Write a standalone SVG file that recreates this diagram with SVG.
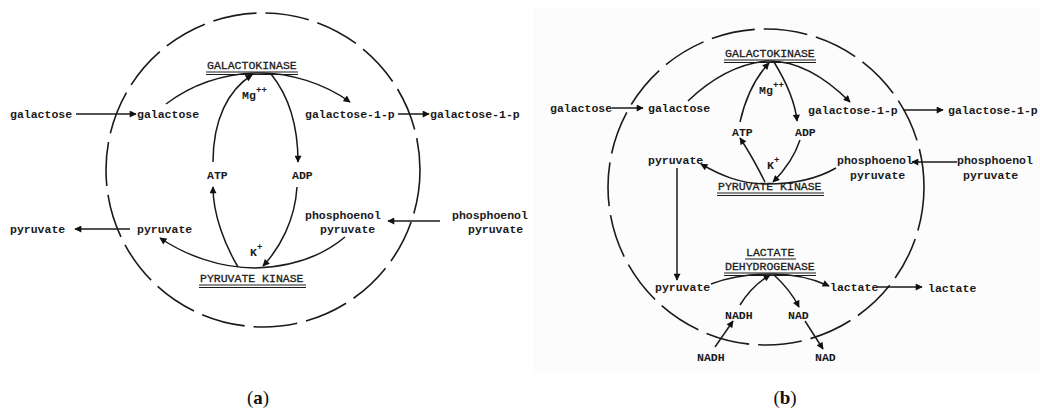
<svg xmlns="http://www.w3.org/2000/svg" width="1040" height="416" viewBox="0 0 1040 416">
<defs>
<marker id="ah" viewBox="0 0 10 10" refX="9" refY="5" markerWidth="8" markerHeight="7" markerUnits="userSpaceOnUse" orient="auto">
<path d="M0,0 L10,5 L0,10 z" fill="#111"/>
</marker>
<style>
.t{font-family:"Liberation Mono","DejaVu Sans Mono",monospace;font-size:11.5px;font-weight:bold;fill:#1a1a1a}
.e{font-family:"Liberation Mono","DejaVu Sans Mono",monospace;font-size:11.5px;fill:#1a1a1a;stroke:#1a1a1a;stroke-width:0.3}
.s{font-family:"Liberation Mono","DejaVu Sans Mono",monospace;font-size:9px;font-weight:bold;fill:#1a1a1a}
.c{fill:none;stroke:#1a1a1a;stroke-width:1.6;stroke-dasharray:44 9}
.l{fill:none;stroke:#1a1a1a;stroke-width:1.5;marker-end:url(#ah)}
.u{stroke:#1a1a1a;stroke-width:1}
.cap{font-family:"Liberation Serif",serif;font-size:19px;fill:#111}
</style>
</defs>
<rect width="1040" height="416" fill="#fff"/>
<rect x="533" y="8" width="507" height="364" fill="#fcfcfc"/>

<g id="panel-a">
<circle id="membrane-a" class="c" cx="263" cy="170" r="157"/>
<g id="a-galactose-out"><text class="t" x="10" y="118">galactose</text></g>
<g id="a-galactose-in"><text class="t" x="137" y="118">galactose</text></g>
<g id="a-galactokinase"><text class="e" x="207" y="69">GALACTOKINASE</text><line class="u" x1="206" y1="72" x2="298" y2="72"/><line class="u" x1="206" y1="74.5" x2="298" y2="74.5"/></g>
<g id="a-mg"><text class="t" x="242" y="99">Mg</text><text class="s" x="256" y="93">++</text></g>
<g id="a-gal1p-in"><text class="t" x="305" y="118">galactose-1-p</text></g>
<g id="a-gal1p-out"><text class="t" x="430" y="118">galactose-1-p</text></g>
<g id="a-atp"><text class="t" x="207" y="179">ATP</text></g>
<g id="a-adp"><text class="t" x="292" y="179">ADP</text></g>
<g id="a-pyruvate-out"><text class="t" x="10" y="233">pyruvate</text></g>
<g id="a-pyruvate-in"><text class="t" x="137" y="233">pyruvate</text></g>
<g id="a-pep-in"><text class="t" x="305" y="219">phosphoenol</text><text class="t" x="320" y="233">pyruvate</text></g>
<g id="a-pep-out"><text class="t" x="452" y="219">phosphoenol</text><text class="t" x="468" y="233">pyruvate</text></g>
<g id="a-k"><text class="t" x="250" y="256">K</text><text class="s" x="257" y="250">+</text></g>
<g id="a-pk"><text class="e" x="200" y="282">PYRUVATE KINASE</text><line class="u" x1="199" y1="285" x2="306" y2="285"/><line class="u" x1="199" y1="287.5" x2="306" y2="287.5"/></g>
<text class="cap" x="258" y="404" text-anchor="middle">(<tspan font-weight="bold">a</tspan>)</text>
</g>

<g id="panel-b">
<circle id="membrane-b" class="c" cx="766" cy="187" r="158" stroke-dasharray="40 10"/>
<g id="b-galactose-out"><text class="t" x="550" y="112">galactose</text></g>
<g id="b-galactose-in"><text class="t" x="648" y="112">galactose</text></g>
<g id="b-galactokinase"><text class="e" x="725" y="57">GALACTOKINASE</text><line class="u" x1="724" y1="60" x2="816" y2="60"/><line class="u" x1="724" y1="62.5" x2="816" y2="62.5"/></g>
<g id="b-mg"><text class="t" x="759" y="94">Mg</text><text class="s" x="773" y="88">++</text></g>
<g id="b-gal1p-in"><text class="t" x="808" y="114">galactose-1-p</text></g>
<g id="b-gal1p-out"><text class="t" x="948" y="114">galactose-1-p</text></g>
<g id="b-atp"><text class="t" x="732" y="136">ATP</text></g>
<g id="b-adp"><text class="t" x="795" y="136">ADP</text></g>
<g id="b-pyruvate-top"><text class="t" x="648" y="164">pyruvate</text></g>
<g id="b-k"><text class="t" x="767" y="169">K</text><text class="s" x="774" y="163">+</text></g>
<g id="b-pep-in"><text class="t" x="837" y="164">phosphoenol</text><text class="t" x="850" y="179">pyruvate</text></g>
<g id="b-pep-out"><text class="t" x="957" y="164">phosphoenol</text><text class="t" x="963" y="179">pyruvate</text></g>
<g id="b-pk"><text class="e" x="718" y="190">PYRUVATE KINASE</text><line class="u" x1="717" y1="193" x2="824" y2="193"/><line class="u" x1="717" y1="195.5" x2="824" y2="195.5"/></g>
<g id="b-ldh"><text class="e" x="746" y="256">LACTATE</text><line class="u" x1="745" y1="259" x2="796" y2="259"/><text class="e" x="725" y="270">DEHYDROGENASE</text><line class="u" x1="724" y1="273" x2="816" y2="273"/><line class="u" x1="724" y1="275.5" x2="816" y2="275.5"/></g>
<g id="b-pyruvate-low"><text class="t" x="655" y="291">pyruvate</text></g>
<g id="b-lactate-in"><text class="t" x="830" y="291">lactate</text></g>
<g id="b-lactate-out"><text class="t" x="928" y="292">lactate</text></g>
<g id="b-nadh-in"><text class="t" x="725" y="319">NADH</text></g>
<g id="b-nad-in"><text class="t" x="788" y="319">NAD</text></g>
<g id="b-nadh-out"><text class="t" x="697" y="361">NADH</text></g>
<g id="b-nad-out"><text class="t" x="815" y="361">NAD</text></g>
<text class="cap" x="785" y="404" text-anchor="middle">(<tspan font-weight="bold">b</tspan>)</text>
</g>

<g id="connectors">
<path class="l" d="M76,114 H136"/>
<path class="l" d="M398,114 H429"/>
<path class="l" d="M130,229 H75"/>
<path class="l" d="M440,221 H388"/>
<path class="l" d="M166,104 C195,82 225,74 256,73 C290,72 325,84 350,102"/>
<path class="l" d="M213,162 C213,120 228,90 252,75"/>
<path class="l" d="M271,74 C288,95 298,125 298,162"/>
<path class="l" d="M297,187 C295,220 280,248 263,266"/>
<path class="l" d="M238,267 C225,245 213,215 213,187"/>
<path class="l" d="M345,237 C320,258 290,267 255,268 C220,268 185,255 160,238"/>

<path class="l" d="M612,108 H643"/>
<path class="l" d="M903,110 H943"/>
<path class="l" d="M957,162 H912"/>
<path class="l" d="M877,287 H922"/>
<path class="l" d="M677,168 V280"/>
<path class="l" d="M688,101 C710,80 735,64 767,61 C800,60 828,80 850,102"/>
<path class="l" d="M740,122 C745,100 755,78 769,63"/>
<path class="l" d="M774,62 C785,80 795,100 797,121"/>
<path class="l" d="M800,140 C795,155 785,170 773,182"/>
<path class="l" d="M765,182 C758,168 748,150 740,138"/>
<path class="l" d="M836,168 C815,180 790,184 767,184 C740,184 720,175 701,164"/>
<path class="l" d="M711,284 C730,277 750,274 771,274 C795,274 812,278 829,286"/>
<path class="l" d="M740,305 C748,292 758,282 770,275"/>
<path class="l" d="M774,275 C785,285 793,295 799,307"/>
<path class="l" d="M715,347 L733,321"/>
<path class="l" d="M805,321 L823,349"/>
</g>
</svg>
